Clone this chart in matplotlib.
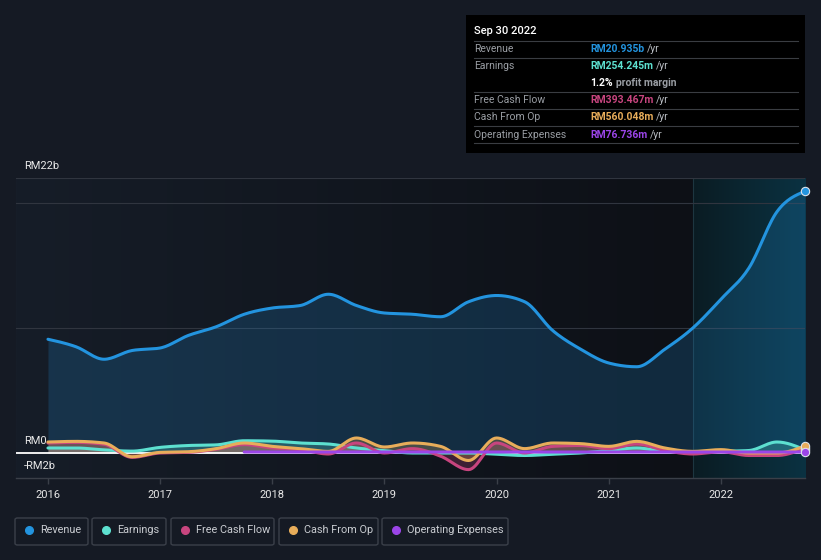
import numpy as np
import matplotlib
matplotlib.use("Agg")
import matplotlib.pyplot as plt
from matplotlib.patches import Rectangle, FancyBboxPatch
from matplotlib.colors import LinearSegmentedColormap

plt.rcParams['font.family'] = ['Roboto', 'DejaVu Sans']

# quarterly data, RM billions
quarters = np.arange(2016.0, 2022.76, 0.25)
revenue = [9.1, 8.5, 7.5, 8.2, 8.4, 9.4, 10.1, 11.1, 11.6, 11.8, 12.7, 11.8,
           11.2, 11.1, 10.9, 12.1, 12.6, 12.1, 9.8, 8.3, 7.2, 6.9, 8.3, 10.0,
           12.3, 14.8, 19.3, 20.935]
earnings = [0.4, 0.4, 0.25, 0.15, 0.45, 0.6, 0.65, 0.98, 0.95, 0.8, 0.72, 0.4,
            0.19, 0.0, 0.0, 0.0, -0.1, -0.2, -0.1, 0.0, 0.2, 0.4, 0.13, 0.08,
            0.13, 0.2, 0.88, 0.254]
free_cash_flow = [0.8, 0.85, 0.7, -0.35, 0.0, 0.05, 0.3, 0.67, 0.4, 0.27, -0.08, 0.8,
                  0.0, 0.35, -0.25, -1.33, 0.8, 0.0, 0.53, 0.6, 0.35, 0.72, 0.2, -0.08,
                  0.1, -0.2, -0.2, 0.393]
cash_from_op = [0.88, 0.93, 0.8, -0.3, 0.05, 0.1, 0.35, 0.8, 0.53, 0.35, 0.13, 1.2,
                0.48, 0.8, 0.53, -0.6, 1.2, 0.35, 0.8, 0.75, 0.53, 0.93, 0.4, 0.13,
                0.27, 0.0, 0.0, 0.56]
opex_quarters = np.arange(2017.75, 2022.76, 0.25)
op_expenses = [0.08] * 20 + [0.077]

year_ticks = [2016, 2017, 2018, 2019, 2020, 2021, 2022]

colors = {'Revenue': '#2394df', 'Earnings': '#5de0d0', 'Free Cash Flow': '#c8457f',
          'Cash From Op': '#e8ad5a', 'Operating Expenses': '#9b45e8'}
bg = '#151a24'


def smooth(x, y, n=16):
    # monotone cubic (like d3 curveMonotoneX)
    x = np.asarray(x, float)
    y = np.asarray(y, float)
    h = np.diff(x)
    s = np.diff(y) / h
    m = np.zeros_like(y)
    for k in range(1, len(y) - 1):
        p = (s[k - 1] * h[k] + s[k] * h[k - 1]) / (h[k - 1] + h[k])
        m[k] = (np.sign(s[k - 1]) + np.sign(s[k])) * min(abs(s[k - 1]), abs(s[k]), 0.5 * abs(p))
    m[0] = (3 * s[0] - m[1]) / 2
    m[-1] = (3 * s[-1] - m[-2]) / 2
    xs, ys = [], []
    for k in range(len(h)):
        t = np.linspace(0, 1, n, endpoint=False)
        h00 = 2 * t**3 - 3 * t**2 + 1
        h10 = t**3 - 2 * t**2 + t
        h01 = -2 * t**3 + 3 * t**2
        h11 = t**3 - t**2
        xs.append(x[k] + t * h[k])
        ys.append(h00 * y[k] + h10 * h[k] * m[k] + h01 * y[k + 1] + h11 * h[k] * m[k + 1])
    xs.append([x[-1]])
    ys.append([y[-1]])
    return np.concatenate(xs), np.concatenate(ys)


fig = plt.figure(figsize=(8.21, 5.6), dpi=100, facecolor=bg)
W, H = 821, 560
ax = fig.add_axes([16 / W, 1 - 478 / H, (805 - 16) / W, (478 - 178) / H])
ax.set_facecolor(bg)
x0, x1 = 2015.715, 2022.75
ax.set_xlim(x0, x1)
ax.set_ylim(-2, 22)

# background gradients
grad = np.linspace(0, 1, 256).reshape(1, -1)
cm_bg = LinearSegmentedColormap.from_list('bgc', ['#161d28', '#0d1016'])
ax.imshow(grad, cmap=cm_bg, extent=[x0, 2021.75, -2, 22], aspect='auto', zorder=0)
cm_hl = LinearSegmentedColormap.from_list('hl', ['#0b1c23', '#0a3242'])
ax.imshow(grad, cmap=cm_hl, extent=[2021.75, x1, -2, 22], aspect='auto', zorder=0)
ax.axvline(2021.75, color='#1d3640', lw=0.8, zorder=1)

for yv in [10, 20, 22]:
    ax.axhline(yv, color='#30353f', lw=0.8, zorder=1)
ax.axhline(0, color='white', lw=1.3, zorder=3)

series = [('Revenue', quarters, revenue, 0.2),
          ('Earnings', quarters, earnings, 0.25),
          ('Free Cash Flow', quarters, free_cash_flow, 0.25),
          ('Cash From Op', quarters, cash_from_op, 0.25),
          ('Operating Expenses', opex_quarters, op_expenses, 0.25)]
for i, (name, xq, yq, a) in enumerate(series):
    sx, sy = smooth(xq, yq)
    ax.fill_between(sx, sy, 0, color=colors[name], alpha=a, lw=0, zorder=2 + i * 0.1)
    ax.plot(sx, sy, color=colors[name], lw=2.2, zorder=4 + i * 0.1, solid_capstyle='round')
    ax.plot([xq[-1]], [yq[-1]], 'o', ms=6, mfc=colors[name], mec='#dde3ea', mew=0.8,
            zorder=6 + i * 0.1, clip_on=False)

for sp in ['top', 'right', 'left']:
    ax.spines[sp].set_visible(False)
ax.spines['bottom'].set_color('#3a3f48')
ax.spines['bottom'].set_linewidth(1)
ax.set_yticks([])
ax.set_xticks(year_ticks)
ax.set_xticklabels([str(y) for y in year_ticks])
ax.tick_params(axis='x', colors='#3a3f48', labelcolor='#e8e8e8', length=4, width=1,
               labelsize=8, pad=5)

ytr = ax.get_yaxis_transform()
for yv, lab in [(22, 'RM22b'), (0, 'RM0'), (-2, '-RM2b')]:
    ax.annotate(lab, (8 / (805 - 16), yv), xycoords=ytr, xytext=(0, 5), textcoords='offset points',
                color='#e8e8e8', fontsize=8, va='bottom', ha='left', annotation_clip=False)


def fx(px):
    return px / W


def fy(py):
    return 1 - py / H


# tooltip
fig.patches.append(Rectangle((fx(466), fy(153)), fx(805) - fx(466), fy(15) - fy(153),
                             transform=fig.transFigure, facecolor='black', edgecolor='none'))
fig.text(fx(474), fy(31), 'Sep 30 2022', color='white', fontsize=8, fontweight='medium', va='center')
for ly in [41, 58, 92, 109, 126, 143]:
    fig.add_artist(plt.Line2D([fx(474), fx(798)], [fy(ly), fy(ly)], color='#3a3d42', lw=0.8))
rows = [(49, 'Revenue', 'RM20.935b', colors['Revenue']),
        (66, 'Earnings', 'RM254.245m', colors['Earnings']),
        (100, 'Free Cash Flow', 'RM393.467m', colors['Free Cash Flow']),
        (117, 'Cash From Op', 'RM560.048m', colors['Cash From Op']),
        (135, 'Operating Expenses', 'RM76.736m', colors['Operating Expenses'])]
for ry, lab, val, c in rows:
    fig.text(fx(474), fy(ry), lab, color='#9a9ea4', fontsize=7.5, va='center')
    t = fig.text(fx(590), fy(ry), val, color=c, fontsize=7.5, fontweight='bold', va='center')
    fig.canvas.draw()
    bb = t.get_window_extent()
    fig.text(bb.x1 / W + fx(3), fy(ry), '/yr', color='#b8bcc2', fontsize=7.5, va='center')
t = fig.text(fx(590), fy(83), '1.2%', color='white', fontsize=7.5, fontweight='bold', va='center')
fig.canvas.draw()
bb = t.get_window_extent()
fig.text(bb.x1 / W + fx(3), fy(83), 'profit margin', color='#9a9ea4', fontsize=7.5,
         fontweight='bold', va='center')

# legend
boxes = [('Revenue', 15, 88), ('Earnings', 92, 166), ('Free Cash Flow', 171, 274),
         ('Cash From Op', 279, 378), ('Operating Expenses', 382, 508)]
for name, bx0, bx1 in boxes:
    fig.patches.append(FancyBboxPatch((fx(bx0), fy(545)), fx(bx1) - fx(bx0), fy(518) - fy(545),
                                      boxstyle='round,pad=0,rounding_size=0.003',
                                      transform=fig.transFigure, facecolor='none',
                                      edgecolor='#3b404a', lw=1))
    fig.add_artist(plt.Line2D([fx(bx0 + 14)], [fy(530)], marker='o', ms=5.5, color=colors[name],
                              lw=0))
    fig.text(fx(bx0 + 25), fy(530), name, color='#c9ccd1', fontsize=7.8, va='center')

fig.savefig('out.png', dpi=100, facecolor=bg)
